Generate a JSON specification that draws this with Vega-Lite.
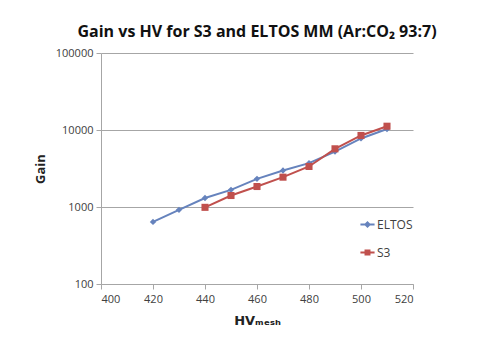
{
  "$schema": "https://vega.github.io/schema/vega-lite/v6.json",
  "autosize": {"type": "none"},
  "width": 312,
  "height": 231,
  "padding": {"left": 101, "top": 53, "right": 86, "bottom": 54},
  "background": "white",
  "config": {
    "font": "Open Sans",
    "view": {"stroke": null},
    "axis": {"labelFont": "Open Sans", "labelFontSize": 11, "labelColor": "#404040", "domainColor": "#a6a6a6", "tickColor": "#a6a6a6", "gridColor": "#a6a6a6", "titleFont": "Open Sans", "titleFontWeight": "bold", "titleFontSize": 13, "titleColor": "#222"},
    "legend": {
      "title": null,
      "orient": "none",
      "legendX": 258,
      "legendY": 163,
      "symbolSize": 200,
      "symbolStrokeWidth": 2,
      "symbolOpacity": 1,
      "labelFont": "Open Sans",
      "labelFontSize": 12,
      "labelColor": "#404040",
      "rowPadding": 13,
      "labelOffset": 1
    }
  },
  "title": {
    "text": "Gain vs HV for S3 and ELTOS MM (Ar:CO₂ 93:7)",
    "font": "Open Sans",
    "fontSize": 16,
    "fontWeight": "bold",
    "color": "#111",
    "anchor": "middle",
    "offset": 7
  },
  "data": {
    "values": [
      {"hv": 420, "gain": 640, "series": "ELTOS"},
      {"hv": 430, "gain": 920, "series": "ELTOS"},
      {"hv": 440, "gain": 1310, "series": "ELTOS"},
      {"hv": 450, "gain": 1670, "series": "ELTOS"},
      {"hv": 460, "gain": 2320, "series": "ELTOS"},
      {"hv": 470, "gain": 2980, "series": "ELTOS"},
      {"hv": 480, "gain": 3710, "series": "ELTOS"},
      {"hv": 490, "gain": 5250, "series": "ELTOS"},
      {"hv": 500, "gain": 7770, "series": "ELTOS"},
      {"hv": 510, "gain": 10300, "series": "ELTOS"},
      {"hv": 440, "gain": 990, "series": "S3"},
      {"hv": 450, "gain": 1410, "series": "S3"},
      {"hv": 460, "gain": 1845, "series": "S3"},
      {"hv": 470, "gain": 2440, "series": "S3"},
      {"hv": 480, "gain": 3360, "series": "S3"},
      {"hv": 490, "gain": 5700, "series": "S3"},
      {"hv": 500, "gain": 8490, "series": "S3"},
      {"hv": 510, "gain": 11200, "series": "S3"}
    ]
  },
  "encoding": {
    "x": {
      "field": "hv", "type": "quantitative",
      "scale": {"domain": [400, 520], "nice": false, "zero": false},
      "axis": {"values": [400, 420, 440, 460, 480, 500, 520], "grid": false, "tickSize": 5, "labelPadding": 4, "title": "HVₘₑₛₕ", "titleFont": "DejaVu Sans", "titleFontSize": 13, "titlePadding": 10}
    },
    "y": {
      "field": "gain", "type": "quantitative",
      "scale": {"type": "log", "domain": [100, 100000], "nice": false},
      "axis": {"values": [100, 1000, 10000, 100000], "format": "d", "grid": true, "tickSize": 5, "labelPadding": 3, "title": "Gain", "titlePadding": 8}
    },
    "color": {
      "field": "series", "type": "nominal",
      "scale": {"domain": ["ELTOS", "S3"], "range": ["#6683bd", "#c0504d"]}
    }
  },
  "layer": [
    {"mark": {"type": "line", "strokeWidth": 2}},
    {
      "transform": [{"filter": "datum.series === 'ELTOS'"}],
      "mark": {"type": "point", "filled": true, "opacity": 1, "shape": "diamond", "size": 40}
    },
    {
      "transform": [{"filter": "datum.series === 'S3'"}],
      "mark": {"type": "point", "filled": true, "opacity": 1, "shape": "square", "size": 50}
    },
    {
      "mark": {"type": "point", "filled": false, "opacity": 0, "strokeWidth": 2},
      "encoding": {
        "shape": {
          "field": "series", "type": "nominal",
          "scale": {"domain": ["ELTOS", "S3"], "range": ["M-1,0H1M0,-0.3L0.3,0L0,0.3L-0.3,0Z", "M-1,0H1M-0.28,-0.28H0.28V0.28H-0.28Z"]}
        }
      }
    }
  ]
}
